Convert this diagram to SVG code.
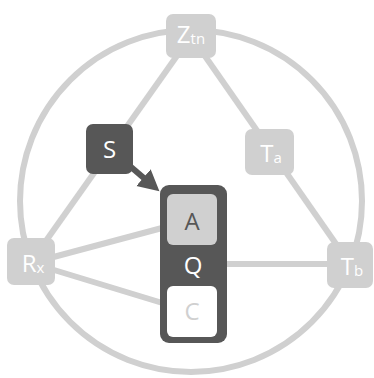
<svg xmlns="http://www.w3.org/2000/svg" width="374" height="378" viewBox="0 0 374 378">
  <defs>
    <style>
      .edge { fill: none; stroke: #d0d0d0; stroke-width: 6; }
      .light { fill: #d0d0d0; }
      .dark { fill: #575757; }
      .lbl { font-family: "Open Sans", "Noto Sans", sans-serif; font-size: 24px; text-anchor: middle; }
      .sub { font-size: 15px; }
      .w { fill: #ffffff; }
      .g { fill: #575757; }
      .lg { fill: #d0d0d0; }
    </style>
    <marker id="head" markerUnits="userSpaceOnUse" markerWidth="24" markerHeight="24" refX="2" refY="11" orient="auto">
      <path d="M0,0 L21,11 L0,22 Z" fill="#575757"/>
    </marker>
  </defs>

  <g id="connectors">
    <circle class="edge" cx="191" cy="201" r="171"/>
    <line class="edge" x1="191" y1="36" x2="31" y2="262"/>
    <line class="edge" x1="191" y1="36" x2="350" y2="264"/>
    <line class="edge" x1="193" y1="264" x2="350" y2="264"/>
    <line class="edge" x1="31" y1="263" x2="192" y2="220"/>
    <line class="edge" x1="31" y1="263" x2="192" y2="312"/>
    <line x1="110" y1="149" x2="145" y2="179" stroke="#575757" stroke-width="6" marker-end="url(#head)"/>
  </g>

  <g id="node-ztn">
    <rect class="light" x="166" y="14" width="50" height="44" rx="7"/>
    <text class="lbl w" x="191" y="43">Z<tspan class="sub" dy="1">tn</tspan></text>
  </g>

  <g id="node-s">
    <rect class="dark" x="86" y="124" width="47" height="50" rx="7"/>
    <text class="lbl w" x="109.5" y="158">S</text>
  </g>

  <g id="node-ta">
    <rect class="light" x="245" y="129" width="49" height="46" rx="7"/>
    <text class="lbl w" x="271" y="162">T<tspan class="sub" dy="1">a</tspan></text>
  </g>

  <g id="node-rx">
    <rect class="light" x="7" y="238" width="48" height="47" rx="7"/>
    <text class="lbl w" x="33" y="272">R<tspan class="sub" dy="1">x</tspan></text>
  </g>

  <g id="node-tb">
    <rect class="light" x="327" y="242" width="46" height="46" rx="7"/>
    <text class="lbl w" x="352" y="275">T<tspan class="sub" dy="1">b</tspan></text>
  </g>

  <g id="node-q">
    <rect class="dark" x="160" y="185" width="67" height="158" rx="9"/>
    <text class="lbl w" x="193" y="274">Q</text>
    <g id="node-a">
      <rect class="light" x="167" y="194" width="50" height="51" rx="6"/>
      <text class="lbl g" x="192" y="230">A</text>
    </g>
    <g id="node-c">
      <rect fill="#ffffff" x="167" y="286" width="50" height="51" rx="6"/>
      <text class="lbl lg" x="192" y="320">C</text>
    </g>
  </g>
</svg>
